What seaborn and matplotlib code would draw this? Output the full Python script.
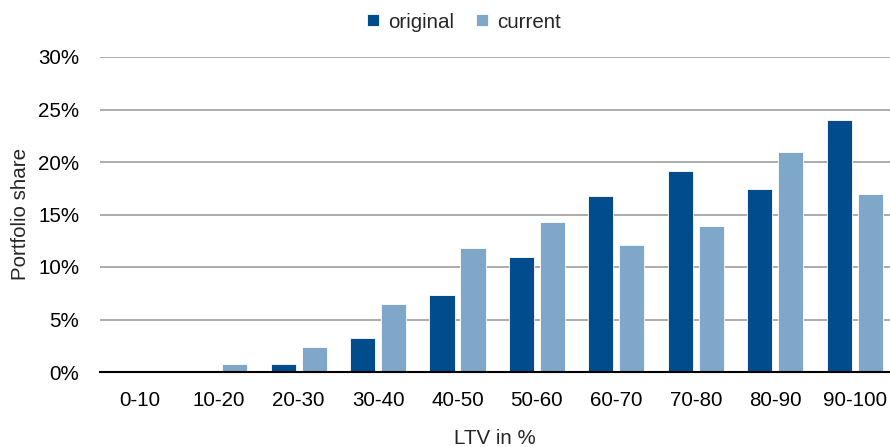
import matplotlib
matplotlib.use("Agg")
import matplotlib.pyplot as plt
import seaborn as sns
import pandas as pd
from matplotlib.ticker import FuncFormatter

categories = ["0-10", "10-20", "20-30", "30-40", "40-50", "50-60",
              "60-70", "70-80", "80-90", "90-100"]
original = [0.0, 0.1, 0.75, 3.2, 7.33, 10.96, 16.75, 19.17, 17.42, 24.04]
current = [0.05, 0.75, 2.4, 6.47, 11.85, 14.27, 12.07, 13.95, 20.92, 16.94]
series_names = ["original", "current"]
colors = ["#004C8C", "#7FA7C9"]

df = pd.DataFrame({
    "LTV": categories * 2,
    "share": [v / 100 for v in original] + [v / 100 for v in current],
    "series": [series_names[0]] * len(categories) + [series_names[1]] * len(categories),
})

sns.set_style("white")
plt.rcParams["font.family"] = ["Liberation Sans", "DejaVu Sans"]

FS = 14.8

fig = plt.figure(figsize=(8.9, 4.47), dpi=100)
ax = fig.add_axes([100 / 890, 1 - 372 / 447, 790 / 890, (372 - 57) / 447])

sns.barplot(data=df, x="LTV", y="share", hue="series", order=categories,
            hue_order=series_names, palette=colors, width=0.78, gap=0.19,
            edgecolor="white", linewidth=0.6, ax=ax, saturation=1, legend=True)

ax.set_ylim(0, 0.30)
ax.set_xlim(-0.5, 9.445)
ax.set_yticks([0, 0.05, 0.10, 0.15, 0.20, 0.25, 0.30])
ax.yaxis.set_major_formatter(FuncFormatter(lambda v, p: f"{v * 100:.0f}%"))
ax.grid(axis="y", color="#A6A6A6", linewidth=1.3)
ax.set_axisbelow(True)
for s in ["top", "right", "left"]:
    ax.spines[s].set_visible(False)
ax.spines["bottom"].set_color("black")
ax.spines["bottom"].set_linewidth(1.5)
ax.tick_params(axis="both", length=0, labelsize=FS, colors="black")
ax.tick_params(axis="y", pad=15)
ax.tick_params(axis="x", pad=14)
ax.set_xlabel("LTV in %", fontsize=FS, labelpad=13)
ax.set_ylabel("Portfolio share", fontsize=FS)
ax.yaxis.set_label_coords(-70 / 790, 0.5)

ax.legend(loc="center", bbox_to_anchor=(464 / 890, 1 - 22 / 447),
          bbox_transform=fig.transFigure, ncol=2, frameon=False,
          fontsize=FS, handlelength=0.55, handleheight=0.55,
          handletextpad=0.45, columnspacing=1.1)

fig.savefig("out.png", dpi=100)
